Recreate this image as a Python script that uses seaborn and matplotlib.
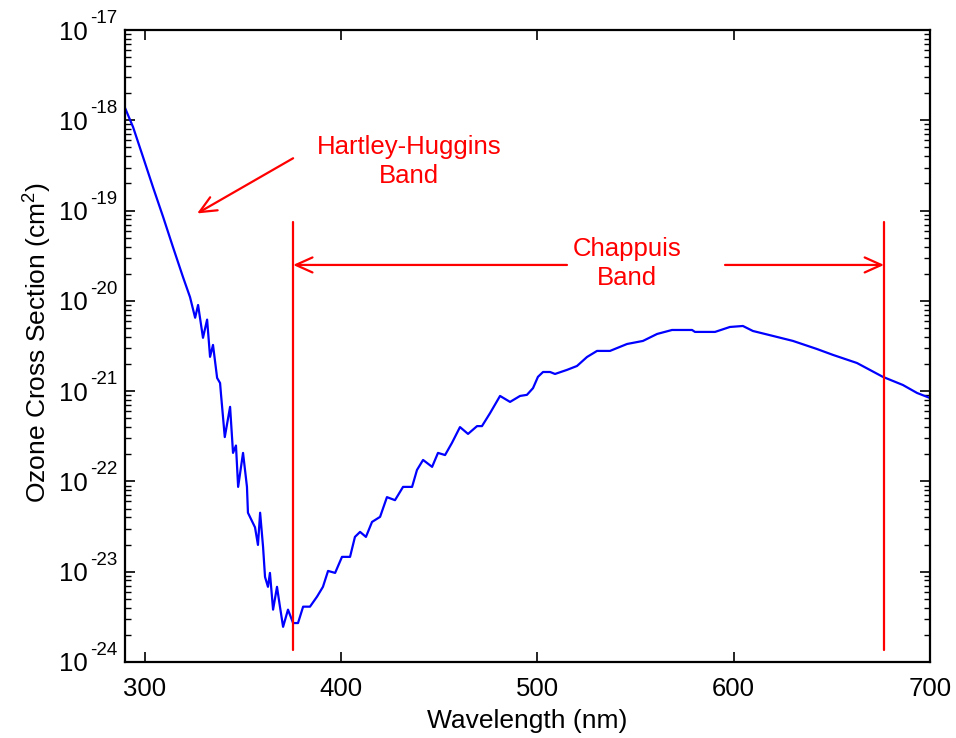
import numpy as np
import pandas as pd
import matplotlib
matplotlib.use("Agg")
import matplotlib.pyplot as plt
import seaborn as sns

# ---- data ----
wavelength = [290.0, 294.1, 299.2, 304.3, 309.4, 314.4, 319.5, 323.1, 325.7, 327.2,
              329.7, 331.8, 333.3, 334.8, 336.9, 338.4, 338.9, 340.8, 343.5, 345.0,
              346.5, 347.6, 350.1, 352.1, 352.6, 356.2, 357.7, 358.8, 360.3, 361.3,
              362.8, 363.8, 365.4, 367.4, 368.9, 370.5, 373.0, 375.6, 378.1, 380.7,
              384.2, 387.8, 390.8, 393.4, 397.0, 400.5, 404.6, 407.1, 409.7, 412.7,
              415.8, 419.9, 423.4, 427.5, 431.6, 436.2, 438.7, 441.8, 446.4, 449.4,
              453.0, 456.5, 460.6, 464.7, 469.3, 471.8, 475.9, 481.0, 486.1, 491.2,
              494.7, 497.8, 500.3, 502.9, 506.5, 509.0, 515.1, 520.2, 525.3, 530.4,
              537.0, 545.7, 553.8, 561.0, 568.6, 578.8, 580.3, 590.5, 598.1, 604.7,
              609.8, 620.0, 630.2, 642.4, 650.6, 662.8, 676.0, 686.2, 693.4, 700.0]
cross_section = [1.37e-18, 8.4e-19, 3.9e-19, 1.8e-19, 8.5e-20, 3.95e-20, 1.84e-20, 1.10e-20, 6.5e-21, 9.0e-21,
                 3.9e-21, 6.2e-21, 2.4e-21, 3.25e-21, 1.4e-21, 1.23e-21, 9.1e-22, 3.1e-22, 6.7e-22, 2.07e-22,
                 2.5e-22, 8.7e-23, 2.07e-22, 8.7e-23, 4.5e-23, 3.1e-23, 1.98e-23, 4.5e-23, 1.88e-23, 8.75e-24,
                 6.8e-24, 9.7e-24, 3.8e-24, 6.8e-24, 4.1e-24, 2.45e-24, 3.8e-24, 2.7e-24, 2.7e-24, 4.1e-24,
                 4.1e-24, 5.3e-24, 6.8e-24, 1.02e-23, 9.7e-24, 1.46e-23, 1.46e-23, 2.43e-23, 2.76e-23, 2.43e-23,
                 3.56e-23, 4.05e-23, 6.7e-23, 6.2e-23, 8.7e-23, 8.7e-23, 1.34e-22, 1.73e-22, 1.45e-22, 2.07e-22,
                 1.96e-22, 2.67e-22, 4.0e-22, 3.36e-22, 4.1e-22, 4.1e-22, 5.7e-22, 8.85e-22, 7.6e-22, 8.85e-22,
                 9.1e-22, 1.08e-21, 1.44e-21, 1.63e-21, 1.63e-21, 1.55e-21, 1.72e-21, 1.90e-21, 2.39e-21, 2.79e-21,
                 2.79e-21, 3.33e-21, 3.60e-21, 4.3e-21, 4.76e-21, 4.76e-21, 4.53e-21, 4.53e-21, 5.14e-21, 5.27e-21,
                 4.64e-21, 4.09e-21, 3.60e-21, 2.93e-21, 2.52e-21, 2.05e-21, 1.44e-21, 1.17e-21, 9.55e-22, 8.4e-22]

x_ticks = [300, 400, 500, 600, 700]
y_exponents = [-24, -23, -22, -21, -20, -19, -18, -17]
band_edges = [375.6, 676.6]          # Chappuis band markers (nm)
band_line_range = [7.5e-20, 1.35e-24]
hartley_text = ("Hartley-Huggins\nBand", 434.5, 3.5e-19)
hartley_arrow = ((375.6, 3.8e-19), (326.7, 9.3e-20))
chappuis_text = ("Chappuis\nBand", 545.7, 2.6e-20)
chappuis_arrow_y = 2.5e-20
chappuis_gap = (515.1, 595.6)

df = pd.DataFrame({"Wavelength": wavelength, "Sigma": cross_section})

# ---- style ----
sns.set_theme(style="ticks")
plt.rcParams["font.family"] = ["Liberation Sans", "DejaVu Sans"]
plt.rcParams["mathtext.fontset"] = "custom"
plt.rcParams["mathtext.rm"] = "Liberation Sans"
plt.rcParams["mathtext.it"] = "Liberation Sans"
plt.rcParams["mathtext.default"] = "regular"
plt.rcParams["text.color"] = "black"
plt.rcParams["axes.labelcolor"] = "black"

fig = plt.figure(figsize=(9.56, 7.38), dpi=100)
ax = fig.add_axes([0.1308, 0.1030, 0.8420, 0.8563])

sns.lineplot(data=df, x="Wavelength", y="Sigma", ax=ax, color="#0000ff",
             linewidth=1.6, estimator=None, sort=False)

ax.set_yscale("log")
ax.set_xlim(290, 700)
ax.set_ylim(1e-24, 1e-17)
ax.set_xticks(x_ticks)
ax.set_xticklabels([str(t) for t in x_ticks])
ax.set_yticks([10.0 ** e for e in y_exponents])
ax.set_yticklabels(["10" for _ in y_exponents])
ax.yaxis.set_minor_locator(matplotlib.ticker.LogLocator(base=10, subs=np.arange(2, 10), numticks=100))
ax.yaxis.set_minor_formatter(matplotlib.ticker.NullFormatter())
ax.xaxis.set_minor_locator(matplotlib.ticker.NullLocator())

ax.tick_params(axis="both", which="both", direction="in", top=True, right=True, colors="black")
ax.tick_params(axis="x", labelsize=18.5, pad=11)
ax.tick_params(axis="y", labelsize=18.5, pad=27)
ax.tick_params(which="major", length=7, width=1.2)
ax.tick_params(which="minor", length=4, width=1.0)
for s in ax.spines.values():
    s.set_linewidth(1.6)
    s.set_color("black")

# exponents of the y tick labels (MATLAB-style 10^-n)
for e in y_exponents:
    ax.annotate(str(e), xy=(0, 10.0 ** e), xycoords=("axes fraction", "data"),
                xytext=(-5.5, 5.0), textcoords="offset points", ha="right", va="baseline",
                fontsize=13.5, color="black", annotation_clip=False)

ax.set_xlabel("Wavelength (nm)", fontsize=19, color="black")
ax.set_ylabel("Ozone Cross Section (cm$^2$)", fontsize=19, color="black")
ax.xaxis.set_label_coords(0.5, -0.074)
ax.yaxis.set_label_coords(-0.088, 0.505)

red = "#ff0000"
aprops = dict(arrowstyle="->,head_length=1.0,head_width=0.45", color=red, lw=1.6,
              shrinkA=0, shrinkB=0)
# Hartley-Huggins annotation
ax.text(hartley_text[1], hartley_text[2], hartley_text[0], color=red, fontsize=18.5,
        ha="center", va="center", linespacing=1.25)
ax.annotate("", xy=hartley_arrow[1], xytext=hartley_arrow[0], arrowprops=aprops)

# Chappuis band
for xe in band_edges:
    ax.plot([xe, xe], band_line_range, color=red, linewidth=1.6)
ax.text(chappuis_text[1], chappuis_text[2], chappuis_text[0], color=red, fontsize=18.5,
        ha="center", va="center", linespacing=1.25)
ax.annotate("", xy=(band_edges[0], chappuis_arrow_y), xytext=(chappuis_gap[0], chappuis_arrow_y),
            arrowprops=aprops)
ax.annotate("", xy=(band_edges[1], chappuis_arrow_y), xytext=(chappuis_gap[1], chappuis_arrow_y),
            arrowprops=aprops)

fig.savefig("out.png", dpi=100, facecolor="white")
